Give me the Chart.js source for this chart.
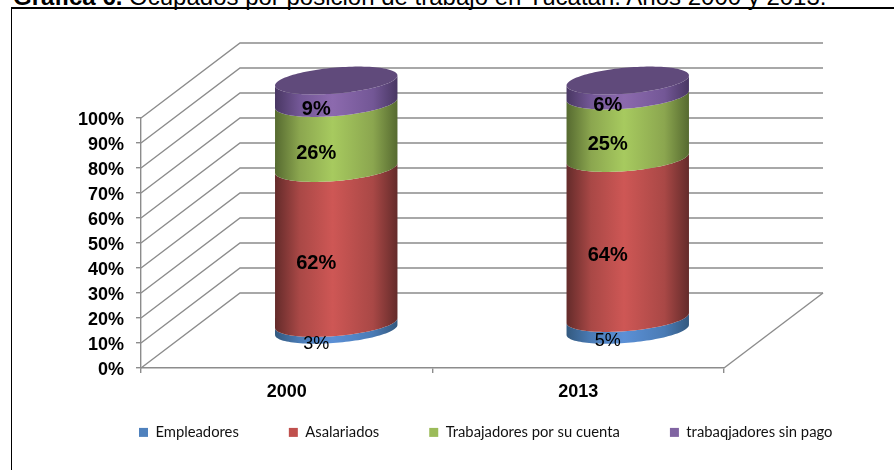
<!DOCTYPE html>
<html>
<head>
<meta charset="utf-8">
<style>
    html, body { margin: 0; padding: 0; background: white; overflow: hidden; }
    #wrap { position: relative; width: 894px; height: 470px; overflow: hidden; }
    #titulo { position: absolute; left: 13px; top: -17px; white-space: nowrap;
              font: 24px "Liberation Sans", Arial, sans-serif; color: black; }
    #marco { position: absolute; left: 11px; top: 7px; width: 900px; height: 500px;
             border: 1px solid black; border-top-width: 2px; box-sizing: border-box; }
    canvas { position: absolute; left: 0; top: 0; }
</style>
</head>
<body>
<div id="wrap">
    <div id="titulo"><b>Gráfica 6.</b> Ocupados por posición de trabajo en Yucatán. Años 2000 y 2013.</div>
    <div id="marco"></div>
    <canvas id="myChart" width="894" height="470"></canvas>
</div>

<script src="https://cdn.jsdelivr.net/npm/chart.js"></script>
<script>
    const anios = ['2000', '2013']
    const nombres = ['Empleadores', 'Asalariados', 'Trabajadores por su cuenta', 'trabaqjadores sin pago']
    const empleadores = [3, 5]
    const asalariados = [62, 64]
    const cuentaPropia = [26, 25]
    const sinPago = [9, 6]
    const ticksY = [0, 10, 20, 30, 40, 50, 60, 70, 80, 90, 100]

    const colores = ['#4f81bd', '#c0504d', '#9bbb59', '#8064a2']
    // borde, intermedio y centro de cada cilindro
    const sombras = [
        ['#33597f', '#4a7bb5', '#5b90d6'],
        ['#642b2a', '#a94846', '#ce5755'],
        ['#566a30', '#8ba64f', '#a7ca5f'],
        ['#493763', '#735796', '#8c6aae']
    ]
    const colorTapa = '#604a7b'
    const colorRejilla = '#8c8c8c'

    // profundidad de la caja 3D
    const fondoX = 99, fondoY = 75

    const banda = (ctx, cx, a, yAbajo, yArriba) => {
        const borde = (cy, t) => [cx + a * Math.cos(t), cy - 5 * Math.cos(t) + 13 * Math.sin(t)]
        ctx.beginPath()
        for (let i = 0; i <= 60; i++) {
            const p = borde(yAbajo, Math.PI * i / 60)
            if (i === 0) ctx.moveTo(p[0], p[1]); else ctx.lineTo(p[0], p[1])
        }
        for (let i = 60; i >= 0; i--) {
            const p = borde(yArriba, Math.PI * i / 60)
            ctx.lineTo(p[0], p[1])
        }
        ctx.closePath()
    }

    const tapa = (ctx, cx, a, cy) => {
        ctx.beginPath()
        for (let i = 0; i <= 120; i++) {
            const t = Math.PI * 2 * i / 120
            const x = cx + a * Math.cos(t), y = cy - 5 * Math.cos(t) + 13 * Math.sin(t)
            if (i === 0) ctx.moveTo(x, y); else ctx.lineTo(x, y)
        }
        ctx.closePath()
    }

    const caja3d = {
        id: 'caja3d',
        beforeInit(chart) {
            // la leyenda no le quita alto al grafico
            const fit = chart.legend.fit
            chart.legend.fit = function () {
                fit.call(this)
                this.height = 30
            }
        },
        afterLayout(chart) {
            const pad = chart.legend.options.labels.padding
            chart.legend.left = 139 - pad
            chart.legend.right = 1200
            chart.legend.top = 425 - pad
        },
        beforeDatasetsDraw(chart) {
            const ctx = chart.ctx
            const { left, right, bottom } = chart.chartArea
            const esc = chart.scales.y
            ctx.save()
            ctx.strokeStyle = colorRejilla
            ctx.lineWidth = 1.4
            ticksY.forEach(v => {
                const y = esc.getPixelForValue(v)
                ctx.beginPath()
                ctx.moveTo(left, y)
                ctx.lineTo(left + fondoX, y - fondoY)
                ctx.lineTo(right + fondoX, y - fondoY)
                ctx.stroke()
            })
            ctx.beginPath()
            ctx.moveTo(right, bottom)
            ctx.lineTo(right + fondoX, bottom - fondoY)
            ctx.stroke()

            const metas = chart.data.datasets.map((d, i) => chart.getDatasetMeta(i))
            anios.forEach((anio, c) => {
                metas.forEach((meta, s) => {
                    const barra = meta.data[c]
                    const cx = barra.x + fondoX / 2
                    const a = barra.width / 2
                    const g = ctx.createLinearGradient(cx - a, 0, cx + a, 0)
                    g.addColorStop(0, sombras[s][0])
                    g.addColorStop(0.2, sombras[s][1])
                    g.addColorStop(0.47, sombras[s][2])
                    g.addColorStop(0.8, sombras[s][1])
                    g.addColorStop(1, sombras[s][0])
                    ctx.fillStyle = g
                    banda(ctx, cx, a, barra.base - fondoY / 2, barra.y - fondoY / 2)
                    ctx.fill()
                })
                const ult = metas[metas.length - 1].data[c]
                ctx.fillStyle = colorTapa
                tapa(ctx, ult.x + fondoX / 2, ult.width / 2, ult.y - fondoY / 2)
                ctx.fill()
            })

            // etiquetas
            ctx.textAlign = 'center'
            ctx.textBaseline = 'middle'
            ctx.fillStyle = 'black'
            metas.forEach((meta, s) => {
                ctx.font = (s === 0 ? '' : 'bold ') + (s === 0 ? '18px' : '20px') + ' "Liberation Sans", Arial'
                meta.data.forEach((barra, c) => {
                    const v = chart.data.datasets[s].data[c]
                    ctx.fillText(v + '%', barra.x + 29.5, (barra.y + barra.base) / 2 - 20)
                })
            })
            ctx.restore()
            return false
        }
    }

    const datos = [empleadores, asalariados, cuentaPropia, sinPago]

    var myChart = new Chart(document.getElementById('myChart'), {
        type: 'bar',
        data: {
            labels: anios,
            datasets: datos.map((d, i) => ({
                label: nombres[i],
                data: d,
                backgroundColor: colores[i],
                borderWidth: 0,
                categoryPercentage: 1,
                barPercentage: 0.42
            }))
        },
        options: {
            responsive: false,
            animation: false,
            layout: { padding: { top: 118, right: 170, bottom: 0, left: 0 } },
            scales: {
                x: {
                    stacked: true,
                    afterFit: s => { s.height = 72 },
                    grid: { drawOnChartArea: false, color: colorRejilla, lineWidth: 1.4, tickLength: 5 },
                    border: { color: colorRejilla, width: 1.4 },
                    ticks: { color: 'black', padding: 8, font: { family: '"Liberation Sans", Arial', size: 18, weight: 'bold' } }
                },
                y: {
                    stacked: true,
                    min: 0,
                    max: 100,
                    afterFit: s => { s.width = 141 },
                    afterBuildTicks: s => { s.ticks = ticksY.map(v => ({ value: v })) },
                    grid: { drawOnChartArea: false, color: colorRejilla, lineWidth: 1.4, tickLength: 5 },
                    border: { color: colorRejilla, width: 1.4 },
                    ticks: {
                        color: 'black',
                        padding: 12,
                        labelOffset: 2,
                        autoSkip: false,
                        callback: v => v + '%',
                        font: { family: '"Liberation Sans", Arial', size: 18, weight: 'bold' }
                    }
                }
            },
            plugins: {
                title: { display: false },
                tooltip: { enabled: false },
                legend: {
                    position: 'bottom',
                    align: 'start',
                    labels: {
                        color: '#111',
                        boxWidth: 9,
                        boxHeight: 9,
                        padding: 50,
                        font: { family: 'Lato', size: 14.8 }
                    }
                }
            }
        },
        plugins: [caja3d]
    })
</script>
</body>
</html>
